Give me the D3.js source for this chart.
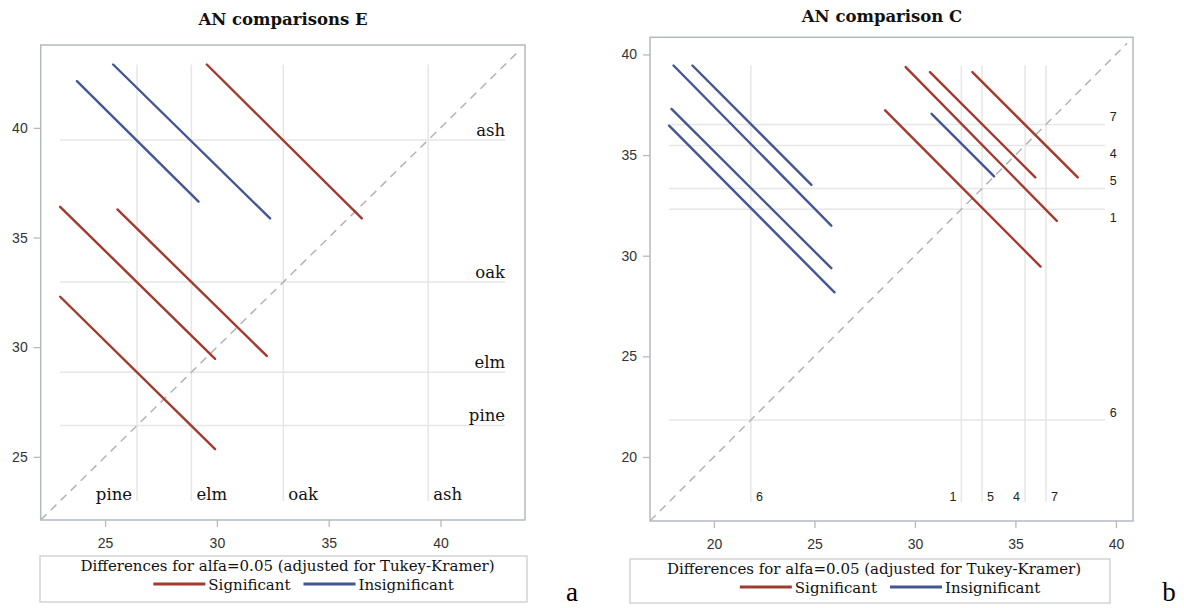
<!DOCTYPE html>
<html lang="en">
<head>
<meta charset="UTF-8" />
<title>AN comparisons</title>
<script src="https://d3js.org/d3.v7.min.js"></script>
<style>
  body { margin: 0; background: #fff; }
  svg { display: block; }
  .axis text { font: 14px 'Liberation Sans', Arial, sans-serif; fill: #333; }
  .axis line { stroke: #b5b9c0; stroke-width: 1.3; }
</style>
</head>
<body>
<script>
  // panel a: AN comparisons E (levels sorted by mean)
  const levelsE = ["pine", "elm", "oak", "ash"];
  const meansE = [26.43, 28.86, 32.97, 39.45];
  const segFromE = [[23.74, 42.13], [25.36, 42.89], [29.55, 42.89], [22.99, 36.40], [25.55, 36.28], [22.99, 32.30]];
  const segToE   = [[29.18, 36.64], [32.38, 35.87], [36.48, 35.87], [29.92, 29.47], [32.23, 29.60], [29.92, 25.35]];
  const segSigE  = [false, false, true, true, true, true];
  const ticksE = [25, 30, 35, 40];

  // panel b: AN comparison C
  const levelsC = ["6", "1", "5", "4", "7"];
  const meansC = [21.84, 32.31, 33.34, 35.48, 36.52];
  const segFromC = [[17.99, 39.45], [18.93, 39.45], [17.89, 37.29], [17.77, 36.46],
                    [29.54, 39.37], [30.75, 39.12], [32.86, 39.12], [28.52, 37.22], [30.83, 37.05]];
  const segToC   = [[25.84, 31.49], [24.85, 33.52], [25.84, 29.38], [26.00, 28.18],
                    [37.06, 31.73], [35.99, 33.89], [38.10, 33.89], [36.25, 29.46], [33.94, 33.94]];
  const segSigC  = [false, false, false, false, true, true, true, true, false];
  const ticksC = [20, 25, 30, 35, 40];

  const legendTitle = "Differences for alfa=0.05 (adjusted for Tukey-Kramer)";
  const legendItems = ["Significant", "Insignificant"];
  const color = { true: "#a23a2e", false: "#445694" };

  const svg = d3.select("body").append("svg")
    .attr("width", 1184)
    .attr("height", 608);

  const panels = [
    {
      title: "AN comparisons E", titleX: 283, titleY: 25,
      left: 40.7, right: 525, top: 45, bottom: 520, domain: [22.12, 43.78],
      ticks: ticksE, levels: levelsE, means: meansE,
      from: segFromE, to: segToE, sig: segSigE,
      labelFont: "16.5px 'DejaVu Serif', serif", labelFill: "#111",
      hMode: "inside", hSide: ["A", "A", "A", "A"], vSide: ["L", "R", "R", "R"],
      legend: { x: 40, y: 556, w: 487, h: 46 },
      tag: "a", tagX: 572, tagY: 601
    },
    {
      title: "AN comparison C", titleX: 882, titleY: 22,
      left: 650, right: 1133, top: 37.3, bottom: 521, domain: [16.82, 40.85],
      ticks: ticksC, levels: levelsC, means: meansC,
      from: segFromC, to: segToC, sig: segSigC,
      labelFont: "12.5px 'Liberation Sans', Arial, sans-serif", labelFill: "#222",
      hMode: "outside", hSide: ["A", "B", "A", "B", "A"], vSide: ["R", "L", "R", "L", "R"],
      legend: { x: 630, y: 559, w: 480, h: 44 },
      tag: "b", tagX: 1169, tagY: 601
    }
  ];

  function drawPanel(cfg) {
    const g = svg.append("g");
    const x = d3.scaleLinear().domain(cfg.domain).range([cfg.left, cfg.right]);
    const y = d3.scaleLinear().domain(cfg.domain).range([cfg.bottom, cfg.top]);

    const segs = cfg.from.map((f, i) => ({ f, t: cfg.to[i], sig: cfg.sig[i] }));
    const [lo, hi] = d3.extent(segs.flatMap(s => [...s.f, ...s.t]));
    const lv = cfg.levels.map((name, i) => ({ name, m: cfg.means[i], h: cfg.hSide[i], v: cfg.vSide[i] }));

    // reference lines at the level means
    g.append("g").selectAll("line").data(lv).join("line")
      .attr("x1", x(lo)).attr("x2", x(hi))
      .attr("y1", d => y(d.m)).attr("y2", d => y(d.m))
      .attr("stroke", "#e6e6e6").attr("stroke-width", 1.5);
    g.append("g").selectAll("line").data(lv).join("line")
      .attr("y1", y(lo)).attr("y2", y(hi))
      .attr("x1", d => x(d.m)).attr("x2", d => x(d.m))
      .attr("stroke", "#e6e6e6").attr("stroke-width", 1.5);

    // level labels
    g.append("g").selectAll("text").data(lv).join("text")
      .style("font", cfg.labelFont).attr("fill", cfg.labelFill)
      .attr("text-anchor", cfg.hMode === "inside" ? "end" : "start")
      .attr("x", cfg.hMode === "inside" ? x(hi) : x(hi) + 5)
      .attr("y", d => y(d.m) + (cfg.hMode === "inside" ? -4 : (d.h === "A" ? -3 : 13)))
      .text(d => d.name);
    g.append("g").selectAll("text").data(lv).join("text")
      .style("font", cfg.labelFont).attr("fill", cfg.labelFill)
      .attr("text-anchor", d => d.v === "L" ? "end" : "start")
      .attr("x", d => x(d.m) + (d.v === "L" ? -5 : 5))
      .attr("y", y(lo) - 1)
      .text(d => d.name);

    // diagonal
    const d0 = cfg.domain[0], d1 = cfg.domain[1] - 0.3;
    g.append("line")
      .attr("x1", x(d0)).attr("y1", y(d0)).attr("x2", x(d1)).attr("y2", y(d1))
      .attr("stroke", "#b3b3b3").attr("stroke-width", 1.5)
      .attr("stroke-dasharray", "8,6");

    // difference segments
    g.append("g").selectAll("line").data(segs).join("line")
      .attr("x1", d => x(d.f[0])).attr("y1", d => y(d.f[1]))
      .attr("x2", d => x(d.t[0])).attr("y2", d => y(d.t[1]))
      .attr("stroke", d => color[d.sig])
      .attr("stroke-width", 2.4)
      .attr("stroke-linecap", "round");

    // frame
    g.append("rect")
      .attr("x", cfg.left).attr("y", cfg.top)
      .attr("width", cfg.right - cfg.left).attr("height", cfg.bottom - cfg.top)
      .attr("fill", "none").attr("stroke", "#b5b9c0").attr("stroke-width", 1.5);

    // axes
    g.append("g").attr("class", "axis")
      .attr("transform", `translate(0,${cfg.bottom})`)
      .call(d3.axisBottom(x).tickValues(cfg.ticks).tickSize(7).tickPadding(11))
      .call(a => a.select(".domain").remove());
    g.append("g").attr("class", "axis")
      .attr("transform", `translate(${cfg.left},0)`)
      .call(d3.axisLeft(y).tickValues(cfg.ticks).tickSize(7).tickPadding(6))
      .call(a => a.select(".domain").remove());

    // title
    g.append("text")
      .attr("x", cfg.titleX).attr("y", cfg.titleY)
      .attr("text-anchor", "middle")
      .style("font", "bold 16.5px 'DejaVu Serif', serif")
      .attr("fill", "#111")
      .text(cfg.title);

    // legend
    const L = cfg.legend;
    const lg = g.append("g");
    lg.append("rect")
      .attr("x", L.x).attr("y", L.y).attr("width", L.w).attr("height", L.h)
      .attr("fill", "#fff").attr("stroke", "#d4d4d4").attr("stroke-width", 1.5);
    const cx = L.x + L.w / 2;
    lg.append("text")
      .attr("x", cx + 4).attr("y", L.y + 15)
      .attr("text-anchor", "middle")
      .style("font", "15px 'DejaVu Serif', serif").attr("fill", "#111")
      .text(legendTitle);

    const lineLen = 52, gapText = 3, gapItem = 13;
    const items = lg.selectAll("g.item").data(legendItems).join("g").attr("class", "item");
    items.append("line")
      .attr("stroke", (d, i) => color[i === 0])
      .attr("stroke-width", 3);
    items.append("text")
      .style("font", "15px 'DejaVu Serif', serif").attr("fill", "#111")
      .text(d => d);
    const widths = items.select("text").nodes().map(n => n.getComputedTextLength());
    const total = d3.sum(widths, w => lineLen + gapText + w) + gapItem * (widths.length - 1);
    let px = cx + 20 - total / 2;
    const rowY = L.y + 34;
    items.each(function (d, i) {
      const it = d3.select(this);
      it.select("line").attr("x1", px).attr("x2", px + lineLen).attr("y1", rowY - 6).attr("y2", rowY - 6);
      it.select("text").attr("x", px + lineLen + gapText).attr("y", rowY);
      px += lineLen + gapText + widths[i] + gapItem;
    });

    // panel tag
    g.append("text")
      .attr("x", cfg.tagX).attr("y", cfg.tagY)
      .attr("text-anchor", "middle")
      .style("font", "27px 'Liberation Serif', serif").attr("fill", "#000")
      .text(cfg.tag);
  }

  panels.forEach(drawPanel);
</script>
</body>
</html>
